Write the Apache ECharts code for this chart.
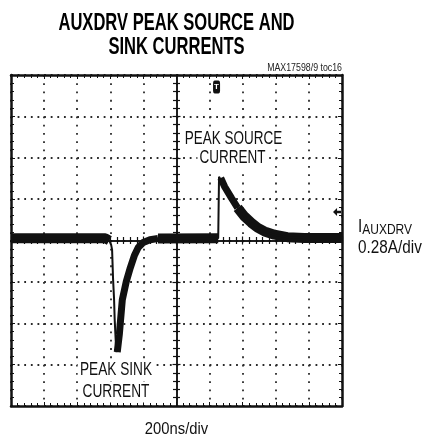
<!DOCTYPE html>
<html>
<head>
<meta charset="utf-8">
<script src="https://cdn.jsdelivr.net/npm/echarts@6/dist/echarts.min.js"></script>
<style>
  html, body { margin: 0; padding: 0; background: #fff; }
  #scope { width: 422px; height: 437px; }
</style>
</head>
<body>
<div id="scope"></div>
<script>
// time in divisions (200ns/div), current in divisions (0.28A/div), 0 = screen centre
const baseLeft = [[-5, 0.055], [-2.15, 0.055], [-2.03, 0.0]]
const sinkFall = [[-2.03, 0.0], [-1.976, -0.1], [-1.946, -0.22], [-1.916, -0.94], [-1.886, -1.42], [-1.868, -1.9], [-1.838, -2.39], [-1.815, -2.7]]
const sinkRise = [[-1.79, -2.7], [-1.727, -2.27], [-1.637, -1.43], [-1.517, -0.99], [-1.396, -0.66], [-1.276, -0.37], [-1.156, -0.17], [-1.006, -0.05], [-0.8, 0.02], [-0.56, 0.05]]
const baseMid = [[-0.56, 0.05], [1.26, 0.055]]
const sourceStep = [[1.26, 0.055], [1.285, 1.54]]
const sourceDecay = [[1.29, 1.54], [1.336, 1.51], [1.456, 1.3], [1.658, 1.03], [1.847, 0.79], [2.057, 0.58], [2.258, 0.43], [2.447, 0.31], [2.658, 0.22], [2.958, 0.14], [3.348, 0.08], [3.859, 0.06], [5, 0.06]]

const triggerMark = [1.21, 3.71]
const groundMark = [4.85, 0.69]

const black = '#111'
const sans = "'Liberation Sans', Arial, sans-serif"

const traceAll = [].concat(baseLeft, sinkFall, sinkRise, baseMid, sourceStep, sourceDecay)
const thickBand = [].concat(baseLeft, ['-'], baseMid, ['-'], sourceDecay.slice(4))
const midBand = [].concat(sinkRise, ['-'], sourceDecay.slice(1, 5))

function edgeX(position, showSplit) {
    return {
        type: 'value', min: -5, max: 5, interval: 1, position: position,
        axisLine: { show: true, onZero: false, lineStyle: { color: black, width: 2.5 } },
        axisTick: { show: true, inside: true, length: 4, lineStyle: { color: black, width: 1 } },
        minorTick: { show: true, splitNumber: 5, length: 3, lineStyle: { color: black, width: 1 } },
        axisLabel: { show: false },
        splitLine: { show: showSplit, lineStyle: { color: '#2a2a2a', width: 1.8, type: [1.8, 6.475] } },
    }
}
function edgeY(position, showSplit) {
    return {
        type: 'value', min: -4, max: 4, interval: 1, position: position,
        axisLine: { show: true, onZero: false, lineStyle: { color: black, width: 2.5 } },
        axisTick: { show: true, inside: true, length: 4, lineStyle: { color: black, width: 1 } },
        minorTick: { show: true, splitNumber: 5, length: 3, lineStyle: { color: black, width: 1 } },
        axisLabel: { show: false },
        splitLine: { show: showSplit, lineStyle: { color: '#2a2a2a', width: 1.8, type: [1.8, 4.82] } },
    }
}
function centreAxis(range, inside) {
    return {
        type: 'value', min: -range, max: range, interval: 1,
        axisLine: { show: true, onZero: true, onZeroAxisIndex: 0, lineStyle: { color: black, width: 1.5 } },
        axisTick: { show: true, inside: inside, length: 4, lineStyle: { color: black, width: 1.2 } },
        minorTick: { show: true, splitNumber: 5, length: 3.5, lineStyle: { color: black, width: 1.2 } },
        axisLabel: { show: false },
        splitLine: { show: false },
    }
}

// condensed look: regular sans squeezed horizontally
function label(x, y, text, size, squeeze, extra) {
    return {
        type: 'text', x: x, y: y, scaleX: squeeze, z: 10,
        style: Object.assign({ text: text, fontFamily: sans, fontSize: size, fill: '#111', textAlign: 'center', textVerticalAlign: 'middle' }, extra || {}),
    }
}

const chart = echarts.init(document.getElementById('scope'))
chart.setOption({
    animation: false,
    backgroundColor: '#fff',
    grid: { left: 11, top: 75, width: 331, height: 331 },
    xAxis: [edgeX('bottom', true), edgeX('top', false), centreAxis(5, true), centreAxis(5, false)],
    yAxis: [edgeY('left', true), edgeY('right', false), centreAxis(4, true), centreAxis(4, false)],
    graphic: [
        label(176.5, 24, 'AUXDRV PEAK SOURCE AND', 23, 0.72, { fontWeight: 'bold', fill: '#000' }),
        label(176.5, 48, 'SINK CURRENTS', 23, 0.72, { fontWeight: 'bold', fill: '#000' }),
        label(342, 68.5, 'MAX17598/9 toc16', 10, 0.88, { textAlign: 'right', fill: '#222' }),
        label(233.5, 138.5, 'PEAK SOURCE', 19, 0.71, { backgroundColor: '#fff', padding: [1, 3] }),
        label(232.5, 158, 'CURRENT', 19, 0.71, { backgroundColor: '#fff', padding: [1, 3] }),
        label(116, 370, 'PEAK SINK', 19, 0.72, { backgroundColor: '#fff', padding: [1, 3] }),
        label(116, 392, 'CURRENT', 19, 0.72, { backgroundColor: '#fff', padding: [1, 3] }),
        label(176.5, 429, '200ns/div', 17, 0.87),
        {
            type: 'text', x: 358, y: 227, scaleX: 0.8,
            style: { text: '{i|I}{s|AUXDRV}', fontFamily: sans, fill: '#111', textVerticalAlign: 'middle',
                     rich: { i: { fontFamily: sans, fontSize: 19, verticalAlign: 'bottom' }, s: { fontFamily: sans, fontSize: 15, verticalAlign: 'bottom', padding: [0, 0, -1, 0] } } },
        },
        label(358, 248, '0.28A/div', 18, 0.85, { textAlign: 'left' }),
    ],
    series: [
        {
            name: 'band', type: 'line', data: thickBand, showSymbol: false, connectNulls: false,
            lineStyle: { color: black, width: 10, cap: 'butt' }, z: 3,
        },
        {
            name: 'edge', type: 'line', data: midBand, showSymbol: false, connectNulls: false,
            lineStyle: { color: black, width: 7, join: 'round' }, z: 3,
        },
        {
            name: 'trace', type: 'line', data: traceAll, showSymbol: false,
            lineStyle: { color: black, width: 2 }, z: 4,
            markPoint: {
                silent: true,
                data: [
                    { coord: triggerMark, symbol: 'roundRect', symbolSize: [7, 13], itemStyle: { color: black },
                      label: { show: true, formatter: 'T', color: '#fff', fontSize: 8, fontWeight: 'bold', position: 'inside' } },
                    { coord: groundMark, symbol: 'path://M0,5 L5,0 L5,3.5 L10,3.5 L10,6.5 L5,6.5 L5,10 Z', symbolSize: [8, 8], itemStyle: { color: black }, label: { show: false } },
                ],
            },
        },
    ],
})
</script>
</body>
</html>
